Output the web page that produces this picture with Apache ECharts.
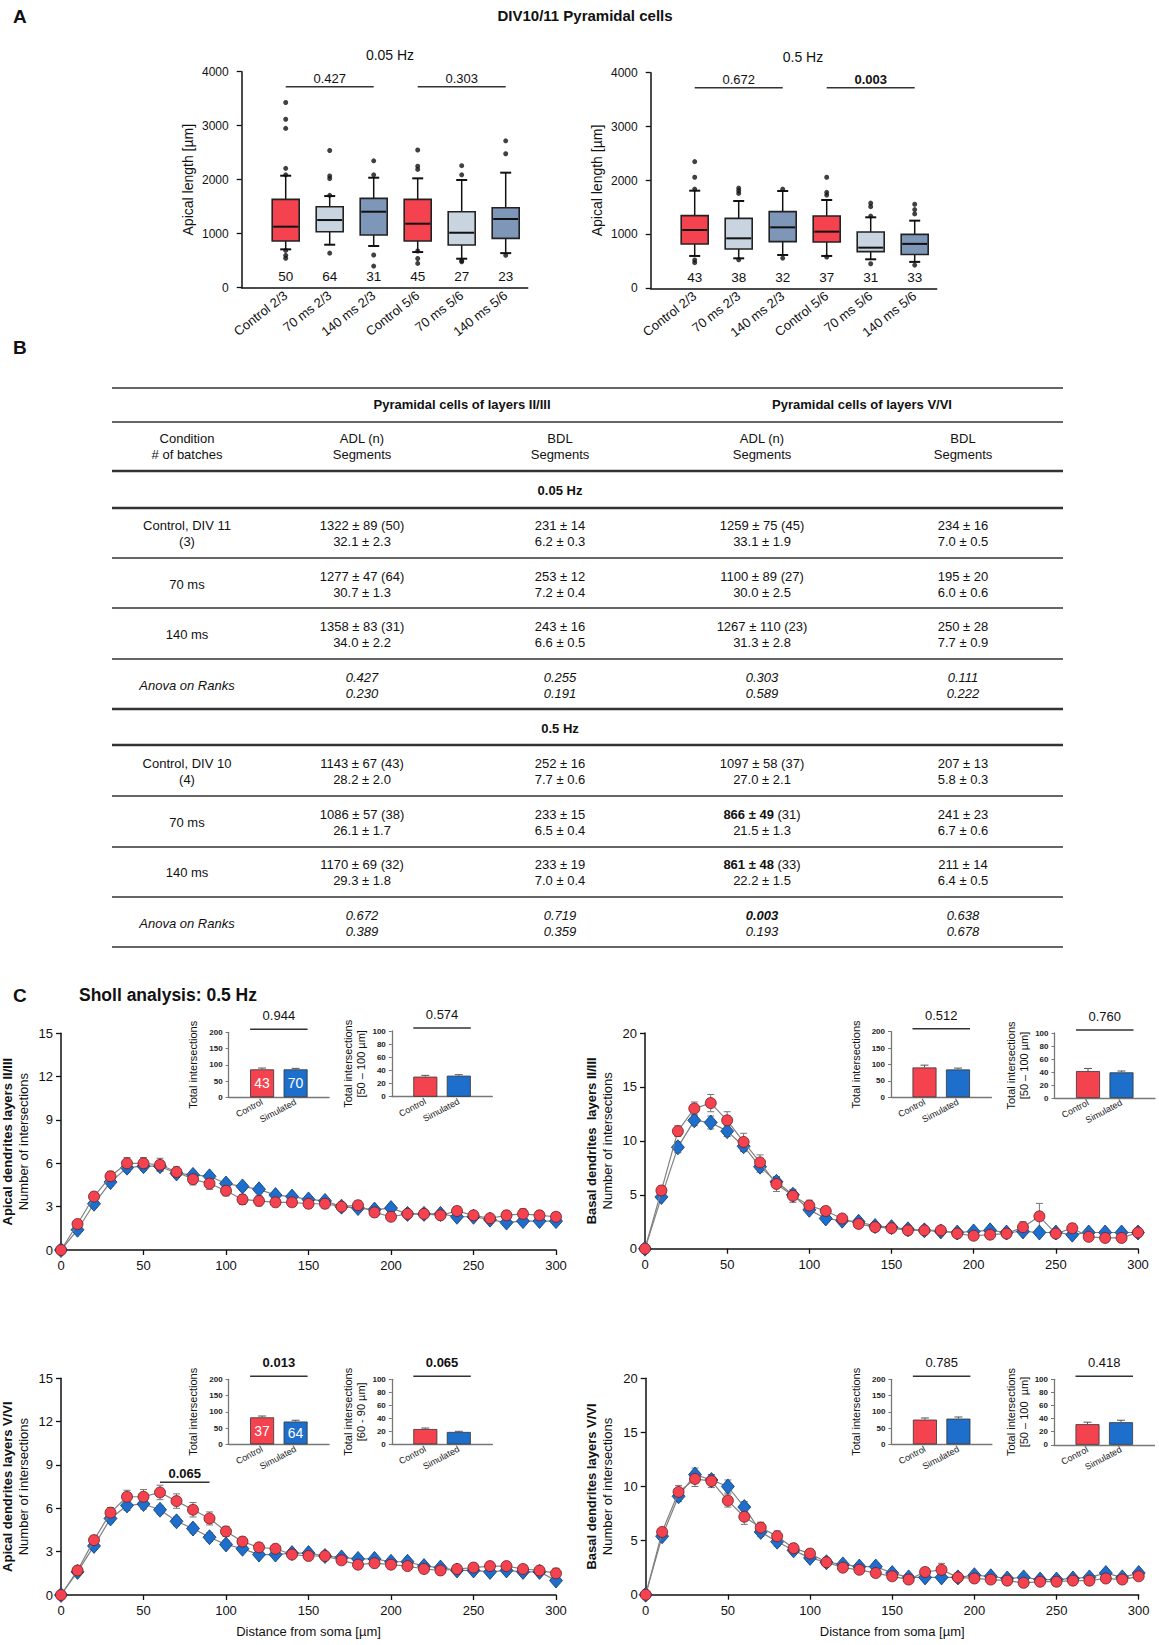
<!DOCTYPE html>
<html>
<head>
<meta charset="utf-8">
<script src="https://cdn.jsdelivr.net/npm/echarts@6/dist/echarts.min.js"></script>
<style>html,body{margin:0;padding:0;background:#fff}#c{width:1159px;height:1645px}</style>
</head>
<body>
<div id="c"></div>
<script>
// ---------------- DATA ----------------
const boxCategories = ['Control 2/3', '70 ms 2/3', '140 ms 2/3', 'Control 5/6', '70 ms 5/6', '140 ms 5/6'];
// [min, Q1, median, Q3, max]
const box005 = [[710, 864, 1130, 1636, 2074], [796, 1037, 1253, 1500, 1697], [772, 975, 1407, 1654, 2037], [660, 864, 1185, 1636, 2025], [537, 790, 1018, 1407, 1994], [640, 914, 1272, 1481, 2130]];
const outliers005 = [[3430, 3120, 2950, 2210, 2090, 690, 600, 545], [2540, 2070, 2020, 1710, 640], [2350, 2090, 605, 400], [2550, 2250, 2190, 680, 540, 450], [2260, 2090, 500, 480], [2720, 2480, 600]];
const n005 = [50, 64, 31, 45, 27, 23];
const box05 = [[600, 822, 1082, 1348, 1811], [556, 730, 927, 1298, 1620], [618, 866, 1131, 1422, 1805], [600, 859, 1051, 1342, 1638], [538, 680, 754, 1045, 1317], [490, 627, 824, 1000, 1255]];
const outliers05 = [[2350, 2060, 1840, 525, 476], [1860, 1810, 1760, 530], [1840, 560], [2060, 1780, 1730, 580], [1580, 1515, 1340, 455], [1560, 1460, 1380, 430]];
const n05 = [43, 38, 32, 37, 31, 33];
const sigPairs = [[1, 3], [4, 6]];
const sig005 = ['0.427', '0.303'];
const sig05 = ['0.672', '0.003'];
const sig05Bold = [false, true];

// table
const tableGroupHeaders = ['Pyramidal cells of layers II/III', 'Pyramidal cells of layers V/VI'];
const tableColumnHeaders = ['Condition\n# of batches', 'ADL (n)\nSegments', 'BDL\nSegments', 'ADL (n)\nSegments', 'BDL\nSegments'];
const tableSections = ['0.05 Hz', '0.5 Hz'];
const rows005 = [
  ['Control, DIV 11\n(3)', '1322 ± 89 (50)\n32.1 ± 2.3', '231 ± 14\n6.2 ± 0.3', '1259 ± 75 (45)\n33.1 ± 1.9', '234 ± 16\n7.0 ± 0.5'],
  ['70 ms', '1277 ± 47 (64)\n30.7 ± 1.3', '253 ± 12\n7.2 ± 0.4', '1100 ± 89 (27)\n30.0 ± 2.5', '195 ± 20\n6.0 ± 0.6'],
  ['140 ms', '1358 ± 83 (31)\n34.0 ± 2.2', '243 ± 16\n6.6 ± 0.5', '1267 ± 110 (23)\n31.3 ± 2.8', '250 ± 28\n7.7 ± 0.9'],
  ['Anova on Ranks', '0.427\n0.230', '0.255\n0.191', '0.303\n0.589', '0.111\n0.222']
];
const rows05 = [
  ['Control, DIV 10\n(4)', '1143 ± 67 (43)\n28.2 ± 2.0', '252 ± 16\n7.7 ± 0.6', '1097 ± 58 (37)\n27.0 ± 2.1', '207 ± 13\n5.8 ± 0.3'],
  ['70 ms', '1086 ± 57 (38)\n26.1 ± 1.7', '233 ± 15\n6.5 ± 0.4', '{b|866 ± 49} (31)\n21.5 ± 1.3', '241 ± 23\n6.7 ± 0.6'],
  ['140 ms', '1170 ± 69 (32)\n29.3 ± 1.8', '233 ± 19\n7.0 ± 0.4', '{b|861 ± 48} (33)\n22.2 ± 1.5', '211 ± 14\n6.4 ± 0.5'],
  ['Anova on Ranks', '0.672\n0.389', '0.719\n0.359', '{bi|0.003}\n0.193', '0.638\n0.678']
];

// Sholl curves
const dist = [0, 10, 20, 30, 40, 50, 60, 70, 80, 90, 100, 110, 120, 130, 140, 150, 160, 170, 180, 190, 200, 210, 220, 230, 240, 250, 260, 270, 280, 290, 300];
const apical23Control = [0, 1.8, 3.7, 5.1, 6.0, 6.0, 5.9, 5.4, 4.9, 4.6, 4.1, 3.5, 3.4, 3.3, 3.3, 3.2, 3.2, 3.0, 3.1, 2.6, 2.3, 2.5, 2.5, 2.4, 2.7, 2.4, 2.2, 2.4, 2.5, 2.4, 2.3];
const apical23ControlErr = [0, 0.2, 0.3, 0.35, 0.4, 0.4, 0.45, 0.35, 0.4, 0.4, 0.35, 0.35, 0.35, 0.3, 0.3, 0.3, 0.3, 0.25, 0.3, 0.25, 0.2, 0.25, 0.2, 0.25, 0.3, 0.25, 0.2, 0.3, 0.35, 0.3, 0.3];
const apical23Sim = [0, 1.4, 3.2, 4.7, 5.7, 5.8, 5.8, 5.3, 5.2, 5.1, 4.6, 4.4, 4.2, 3.8, 3.7, 3.5, 3.4, 3.0, 2.9, 2.8, 2.9, 2.5, 2.5, 2.5, 2.3, 2.3, 2.1, 1.9, 2.0, 2.0, 2.0];
const apical23SimErr = [0, 0.15, 0.25, 0.25, 0.3, 0.3, 0.3, 0.25, 0.25, 0.25, 0.25, 0.25, 0.25, 0.2, 0.2, 0.2, 0.2, 0.2, 0.2, 0.2, 0.2, 0.2, 0.2, 0.2, 0.2, 0.2, 0.2, 0.2, 0.2, 0.2, 0.2];
const basal23Control = [0, 5.4, 10.9, 13.0, 13.5, 11.9, 9.9, 8.0, 6.0, 4.9, 4.0, 3.5, 2.8, 2.3, 2.0, 1.9, 1.7, 1.7, 1.7, 1.4, 1.2, 1.3, 1.4, 2.0, 3.0, 1.4, 1.9, 1.1, 1.0, 1.0, 1.5];
const basal23ControlErr = [0, 0.4, 0.5, 0.6, 0.8, 0.8, 0.8, 0.7, 0.7, 0.6, 0.5, 0.4, 0.3, 0.3, 0.3, 0.3, 0.3, 0.3, 0.3, 0.3, 0.3, 0.3, 0.3, 0.5, 1.2, 0.3, 0.4, 0.3, 0.3, 0.3, 0.3];
const basal23Sim = [0, 4.8, 9.4, 11.9, 11.7, 10.9, 9.5, 7.6, 6.2, 5.0, 3.6, 2.8, 2.6, 2.5, 2.1, 2.0, 1.8, 1.7, 1.6, 1.5, 1.6, 1.7, 1.5, 1.6, 1.5, 1.5, 1.3, 1.5, 1.5, 1.5, 1.5];
const basal23SimErr = [0, 0.3, 0.5, 0.5, 0.6, 0.5, 0.5, 0.5, 0.4, 0.4, 0.3, 0.3, 0.3, 0.3, 0.3, 0.2, 0.2, 0.2, 0.2, 0.2, 0.2, 0.2, 0.2, 0.2, 0.2, 0.2, 0.2, 0.2, 0.2, 0.2, 0.2];
const apical56Control = [0, 1.7, 3.8, 5.7, 6.8, 6.8, 7.1, 6.5, 5.9, 5.3, 4.4, 3.7, 3.3, 3.2, 2.8, 2.7, 2.7, 2.4, 2.1, 2.2, 2.1, 2.0, 1.8, 1.7, 1.8, 1.9, 2.0, 2.0, 1.8, 1.7, 1.5];
const apical56ControlErr = [0, 0.2, 0.3, 0.35, 0.45, 0.5, 0.5, 0.5, 0.5, 0.45, 0.35, 0.3, 0.3, 0.3, 0.25, 0.25, 0.25, 0.25, 0.25, 0.25, 0.25, 0.25, 0.2, 0.2, 0.2, 0.2, 0.2, 0.2, 0.2, 0.2, 0.35];
const apical56Sim = [0, 1.6, 3.4, 5.3, 6.2, 6.3, 5.9, 5.1, 4.6, 4.0, 3.5, 3.2, 2.8, 2.8, 2.9, 2.9, 2.7, 2.6, 2.5, 2.5, 2.3, 2.3, 2.0, 1.9, 1.7, 1.7, 1.6, 1.7, 1.6, 1.6, 1.0];
const apical56SimErr = [0, 0.15, 0.25, 0.3, 0.35, 0.35, 0.3, 0.3, 0.3, 0.3, 0.25, 0.25, 0.2, 0.2, 0.2, 0.2, 0.2, 0.2, 0.2, 0.2, 0.2, 0.2, 0.2, 0.2, 0.2, 0.2, 0.2, 0.2, 0.2, 0.2, 0.2];
const basal56Control = [0, 5.8, 9.5, 10.7, 10.5, 8.7, 7.2, 6.2, 5.4, 4.3, 3.8, 3.0, 2.5, 2.3, 2.0, 1.7, 1.4, 2.1, 2.3, 1.6, 1.5, 1.4, 1.3, 1.1, 1.2, 1.2, 1.3, 1.3, 1.5, 1.4, 1.7];
const basal56ControlErr = [0, 0.3, 0.6, 0.7, 0.6, 0.6, 0.7, 0.5, 0.5, 0.4, 0.4, 0.3, 0.3, 0.3, 0.3, 0.3, 0.3, 0.4, 0.6, 0.3, 0.3, 0.3, 0.3, 0.3, 0.3, 0.3, 0.3, 0.3, 0.3, 0.3, 0.3];
const basal56Sim = [0, 5.4, 9.1, 11.1, 10.6, 10.0, 8.1, 5.8, 4.9, 4.1, 3.4, 3.0, 2.8, 2.6, 2.6, 2.0, 1.6, 1.6, 1.6, 1.6, 1.8, 1.7, 1.5, 1.6, 1.4, 1.4, 1.5, 1.6, 2.0, 1.6, 2.0];
const basal56SimErr = [0, 0.3, 0.5, 0.6, 0.5, 0.6, 0.5, 0.4, 0.4, 0.3, 0.3, 0.3, 0.3, 0.3, 0.3, 0.2, 0.2, 0.2, 0.2, 0.2, 0.2, 0.2, 0.2, 0.2, 0.2, 0.2, 0.2, 0.2, 0.3, 0.2, 0.2];
const apical56CurveSig = [[60, 90]];
const apical56CurveSigLabel = ['0.065'];

// inset bars
const insetGroups = [' ', 'Control', 'Simulated', '  '];
const apical23Total = [86, 86], apical23TotalErr = [4, 3];
const apical23Range = [30.5, 32], apical23RangeErr = [2, 1.5];
const basal23Total = [91, 85], basal23TotalErr = [7, 4];
const basal23Range = [41.5, 39.5], basal23RangeErr = [4, 2];
const apical56Total = [83, 70], apical56TotalErr = [4, 4];
const apical56Range = [23.5, 19], apical56RangeErr = [1.5, 1];
const basal56Total = [76, 79], basal56TotalErr = [5, 5];
const basal56Range = [31.5, 34.5], basal56RangeErr = [3, 3];
const apical23N = [43, 70];
const apical56N = [37, 64];
const apical23P = ['0.944', '0.574'];
const basal23P = ['0.512', '0.760'];
const apical56P = ['0.013', '0.065'];
const basal56P = ['0.785', '0.418'];
const rangeLabels = ['[50 – 100 µm]', '[50 – 100 µm]', '[60 - 90 µm]', '[50 – 100  µm]'];

// ---------------- STYLE ----------------
const FF = '"Liberation Sans", Arial, Helvetica, sans-serif';
const RED = '#F4434F', LIGHT = '#C8D5E0', STEEL = '#7E97B8', BLUE = '#1D6FCB';
const boxColors = [RED, LIGHT, STEEL, RED, LIGHT, STEEL];
const INK = '#111';

const grids = [], xAxes = [], yAxes = [], series = [];
function addGrid(g) { grids.push(Object.assign({ outerBoundsMode: 'none', containLabel: false }, g)); return grids.length - 1; }
const blackLine = { show: true, lineStyle: { color: INK, width: 1.5 } };

// ---------------- PANEL A: box plots ----------------
function boxPanel(g, boxes, outs, ns, sigLabels, sigBold) {
  const gi = addGrid(g);
  xAxes.push({
    gridIndex: gi, type: 'value', min: 0, max: 6.5, interval: 1,
    axisLine: blackLine, axisTick: { show: false }, splitLine: { show: false },
    axisLabel: { rotate: 38, margin: 6, fontSize: 13, color: INK, fontFamily: FF, showMinLabel: true, showMaxLabel: true,
      formatter: v => (Number.isInteger(v) && boxCategories[v - 1]) ? boxCategories[v - 1] : '' }
  });
  yAxes.push({
    gridIndex: gi, type: 'value', min: 0, max: 4000, interval: 1000,
    axisLine: blackLine, axisTick: { show: true, length: 5, lineStyle: { color: INK, width: 1.3 } },
    splitLine: { show: false },
    axisLabel: { fontSize: 12, color: INK, fontFamily: FF, margin: 13, formatter: v => String(v) },
    name: 'Apical length [µm]', nameLocation: 'middle', nameGap: 47, nameRotate: 90, nameMoveOverlap: false,
    nameTextStyle: { fontSize: 14, color: INK, fontFamily: FF }
  });
  series.push({
    type: 'custom', xAxisIndex: gi, yAxisIndex: gi, z: 3, clip: false,
    data: boxes.map((b, i) => [i + 1].concat(b)),
    renderItem: (params, api) => {
      const x = api.value(0);
      const c = [1, 2, 3, 4, 5].map(k => api.coord([x, api.value(k)]));
      const cx = c[0][0], hw = 13.5, cw = 5.5;
      const ln = (x1, y1, x2, y2, w) => ({ type: 'line', shape: { x1, y1, x2, y2 }, style: { stroke: INK, lineWidth: w || 1.5 } });
      return { type: 'group', children: [
        ln(cx, c[0][1], cx, c[1][1]), ln(cx, c[3][1], cx, c[4][1]),
        ln(cx - cw, c[0][1], cx + cw, c[0][1], 2), ln(cx - cw, c[4][1], cx + cw, c[4][1], 2),
        { type: 'rect', shape: { x: cx - hw, y: c[3][1], width: 2 * hw, height: c[1][1] - c[3][1] },
          style: { fill: boxColors[params.dataIndex], stroke: '#222', lineWidth: 1.6 } },
        ln(cx - hw + 1, c[2][1], cx + hw - 1, c[2][1], 2)
      ] };
    }
  });
  const pts = [];
  outs.forEach((arr, i) => arr.forEach(v => pts.push([i + 1, v])));
  series.push({ type: 'scatter', xAxisIndex: gi, yAxisIndex: gi, z: 4, symbol: 'circle', symbolSize: 5,
    itemStyle: { color: INK }, data: pts, silent: true });
  series.push({
    type: 'custom', xAxisIndex: gi, yAxisIndex: gi, z: 4, clip: false,
    data: ns.map((n, i) => [i + 1, 0]),
    renderItem: (params, api) => {
      const p = api.coord([api.value(0), 0]);
      return { type: 'text', x: p[0], y: p[1] - 11,
        style: { text: String(ns[params.dataIndex]), textAlign: 'center', textVerticalAlign: 'middle', fontSize: 13.5, fontFamily: FF, fill: INK } };
    }
  });
  series.push(bracketSeries(gi, sigPairs, sigLabels, sigBold, 3720, 0, 0, 13, 2));
}

function bracketSeries(gi, pairs, labels, bolds, yVal, dy, pad, fontSize, labelGap) {
  return {
    type: 'custom', xAxisIndex: gi, yAxisIndex: gi, z: 5, clip: false,
    data: pairs.map(p => [p[0], p[1]]),
    renderItem: (params, api) => {
      const a = api.coord([api.value(0), yVal]), b = api.coord([api.value(1), yVal]);
      const y = a[1] - dy;
      return { type: 'group', children: [
        { type: 'line', shape: { x1: a[0] - pad, y1: y, x2: b[0] + pad, y2: y }, style: { stroke: '#333', lineWidth: 1.6 } },
        { type: 'text', x: (a[0] + b[0]) / 2, y: y - labelGap,
          style: { text: labels[params.dataIndex], textAlign: 'center', textVerticalAlign: 'bottom', fontSize: fontSize,
            fontWeight: (bolds && bolds[params.dataIndex]) ? 'bold' : 'normal', fontFamily: FF, fill: INK } }
      ] };
    }
  };
}

boxPanel({ left: 241.7, top: 71.7, width: 286, height: 216 }, box005, outliers005, n005, sig005, [false, false]);
boxPanel({ left: 650.7, top: 72.7, width: 286, height: 215.6 }, box05, outliers05, n05, sig05, sig05Bold);

// ---------------- PANEL C: Sholl curves ----------------
function errSeries(gi, xs, ys, es, color, z) {
  return {
    type: 'custom', xAxisIndex: gi, yAxisIndex: gi, z: z, clip: false, silent: true,
    data: xs.map((x, i) => [x, ys[i], es[i]]),
    renderItem: (params, api) => {
      const x = api.value(0), y = api.value(1), e = api.value(2);
      if (!e) return null;
      const t = api.coord([x, y + e]), b = api.coord([x, y - e]), cap = 3.5;
      const st = { stroke: color, lineWidth: 1 };
      return { type: 'group', children: [
        { type: 'line', shape: { x1: t[0], y1: t[1], x2: b[0], y2: b[1] }, style: st },
        { type: 'line', shape: { x1: t[0] - cap, y1: t[1], x2: t[0] + cap, y2: t[1] }, style: st },
        { type: 'line', shape: { x1: b[0] - cap, y1: b[1], x2: b[0] + cap, y2: b[1] }, style: st }
      ] };
    }
  };
}

function shollPanel(g, yMax, yInt, boldName, ctrl, ctrlErr, sim, simErr, showXName) {
  const gi = addGrid(g);
  xAxes.push({
    gridIndex: gi, type: 'value', min: 0, max: 300, interval: 50,
    axisLine: blackLine, axisTick: { show: true, length: 5, lineStyle: { color: INK, width: 1.3 } }, splitLine: { show: false },
    axisLabel: { fontSize: 13, color: INK, fontFamily: FF, margin: 9 },
    name: showXName ? 'Distance from soma [µm]' : '', nameLocation: 'middle', nameGap: 30, nameMoveOverlap: false,
    nameTextStyle: { fontSize: 13, color: INK, fontFamily: FF }
  });
  yAxes.push({
    gridIndex: gi, type: 'value', min: 0, max: yMax, interval: yInt,
    axisLine: blackLine, axisTick: { show: true, length: 5, lineStyle: { color: INK, width: 1.3 } }, splitLine: { show: false },
    axisLabel: { fontSize: 13, color: INK, fontFamily: FF, margin: 8 },
    name: '{b|' + boldName + '}\n{n|Number of intersections}', nameLocation: 'middle', nameGap: 30, nameRotate: 90, nameMoveOverlap: false,
    nameTextStyle: { rich: {
      b: { fontWeight: 'bold', fontSize: 13, fontFamily: FF, color: INK, lineHeight: 16 },
      n: { fontSize: 13, fontFamily: FF, color: INK, lineHeight: 16 } } }
  });
  series.push(errSeries(gi, dist, sim, simErr, '#777', 2));
  series.push(errSeries(gi, dist, ctrl, ctrlErr, '#777', 2));
  series.push({
    type: 'line', xAxisIndex: gi, yAxisIndex: gi, z: 3, data: dist.map((d, i) => [d, sim[i]]),
    symbol: 'diamond', symbolSize: [13, 15], lineStyle: { color: '#808080', width: 1.2 },
    itemStyle: { color: BLUE, borderColor: '#0e3a70', borderWidth: 0.8 }, silent: true
  });
  series.push({
    type: 'line', xAxisIndex: gi, yAxisIndex: gi, z: 4, data: dist.map((d, i) => [d, ctrl[i]]),
    symbol: 'circle', symbolSize: 11, lineStyle: { color: '#808080', width: 1.2 },
    itemStyle: { color: RED, borderColor: '#6b1d24', borderWidth: 0.8 }, silent: true
  });
  return gi;
}

function insetPanel(g, yMax, yInt, name, vals, errs, nArr, pLabel, pBold) {
  const gi = addGrid(g);
  xAxes.push({
    gridIndex: gi, type: 'category', data: insetGroups, boundaryGap: false,
    axisLine: { show: true, lineStyle: { color: '#777', width: 1.3 } }, axisTick: { show: false }, splitLine: { show: false },
    axisLabel: { interval: 0, rotate: 28, margin: 4, fontSize: 9, color: '#222', fontFamily: FF }
  });
  yAxes.push({
    gridIndex: gi, type: 'value', min: 0, max: yMax, interval: yInt,
    axisLine: { show: true, lineStyle: { color: '#777', width: 1.3 } },
    axisTick: { show: true, length: 3, lineStyle: { color: '#777', width: 1 } }, splitLine: { show: false },
    axisLabel: { fontSize: 8, fontWeight: 'bold', color: '#222', fontFamily: FF, margin: 6 },
    name: name, nameLocation: 'middle', nameGap: name.indexOf('\n') >= 0 ? 24 : 29, nameRotate: 90, nameMoveOverlap: false,
    nameTextStyle: { fontSize: 11, color: INK, fontFamily: FF, lineHeight: 13 }
  });
  series.push({
    type: 'bar', xAxisIndex: gi, yAxisIndex: gi, barWidth: 24, z: 3, silent: true,
    data: ['-', { value: vals[0], itemStyle: { color: RED } }, { value: vals[1], itemStyle: { color: BLUE } }, '-'],
    itemStyle: { borderColor: '#333', borderWidth: 0.8 },
    label: { show: !!nArr, position: 'inside', color: '#fff', fontSize: 14, fontFamily: FF,
      formatter: p => nArr ? String(nArr[p.dataIndex - 1]) : '' }
  });
  series.push({
    type: 'custom', xAxisIndex: gi, yAxisIndex: gi, z: 4, clip: false, silent: true,
    data: vals.map((v, i) => [i + 1, v, errs[i]]),
    renderItem: (params, api) => {
      const x = api.value(0), y = api.value(1), e = api.value(2);
      const t = api.coord([x, y + e]), b = api.coord([x, y]), cap = 4;
      const st = { stroke: '#555', lineWidth: 1 };
      return { type: 'group', children: [
        { type: 'line', shape: { x1: t[0], y1: t[1], x2: b[0], y2: b[1] }, style: st },
        { type: 'line', shape: { x1: t[0] - cap, y1: t[1], x2: t[0] + cap, y2: t[1] }, style: st }
      ] };
    }
  });
  series.push(bracketSeries(gi, [[1, 2]], [pLabel], [pBold], yMax, 3, 12, 13, 7));
}

const c1 = shollPanel({ left: 61, top: 1033.3, width: 495, height: 216.7 }, 15, 3, 'Apical dendrites layers II/III', apical23Control, apical23ControlErr, apical23Sim, apical23SimErr, false);
const c2 = shollPanel({ left: 645, top: 1033, width: 493, height: 215.7 }, 20, 5, 'Basal dendrites  layers II/III', basal23Control, basal23ControlErr, basal23Sim, basal23SimErr, false);
const c3 = shollPanel({ left: 61, top: 1378.3, width: 495, height: 216.7 }, 15, 3, 'Apical dendrites layers V/VI', apical56Control, apical56ControlErr, apical56Sim, apical56SimErr, true);
series.push(bracketSeries(c3, apical56CurveSig, apical56CurveSigLabel, [true], 7.8, 0, 0, 13, 2));
const c4 = shollPanel({ left: 645.7, top: 1378.3, width: 493, height: 216.4 }, 20, 5, 'Basal dendrites layers V/VI', basal56Control, basal56ControlErr, basal56Sim, basal56SimErr, true);

insetPanel({ left: 228.6, top: 1032.3, width: 100.5, height: 65 }, 200, 50, 'Total intersections', apical23Total, apical23TotalErr, apical23N, apical23P[0], false);
insetPanel({ left: 391.8, top: 1031, width: 100.5, height: 65.7 }, 100, 20, 'Total intersections\n' + rangeLabels[0], apical23Range, apical23RangeErr, null, apical23P[1], false);
insetPanel({ left: 891, top: 1031.7, width: 100.5, height: 65.6 }, 200, 50, 'Total intersections', basal23Total, basal23TotalErr, null, basal23P[0], false);
insetPanel({ left: 1054.5, top: 1033, width: 100.5, height: 65 }, 100, 20, 'Total intersections\n' + rangeLabels[1], basal23Range, basal23RangeErr, null, basal23P[1], false);
insetPanel({ left: 228.6, top: 1379.3, width: 100.5, height: 65 }, 200, 50, 'Total intersections', apical56Total, apical56TotalErr, apical56N, apical56P[0], true);
insetPanel({ left: 391.8, top: 1379.3, width: 100.5, height: 65 }, 100, 20, 'Total intersections\n' + rangeLabels[2], apical56Range, apical56RangeErr, null, apical56P[1], true);
insetPanel({ left: 891.4, top: 1379.3, width: 100.5, height: 65 }, 200, 50, 'Total intersections', basal56Total, basal56TotalErr, null, basal56P[0], false);
insetPanel({ left: 1054, top: 1379.3, width: 100.5, height: 65.5 }, 100, 20, 'Total intersections\n' + rangeLabels[3], basal56Range, basal56RangeErr, null, basal56P[1], false);

// ---------------- Texts & TABLE (graphic) ----------------
const graphics = [];
function txt(x, y, text, opt) {
  graphics.push({ type: 'text', x: x, y: y, silent: true, style: Object.assign({
    text: text, fontSize: 13, fontFamily: FF, fill: INK, textAlign: 'center', textVerticalAlign: 'middle', lineHeight: 16,
    rich: { b: { fontWeight: 'bold', fontSize: 13, fontFamily: FF, fill: INK, lineHeight: 16 },
            bi: { fontWeight: 'bold', fontStyle: 'italic', fontSize: 13, fontFamily: FF, fill: INK, lineHeight: 16 } }
  }, opt || {}) });
}
function hline(y, w) {
  graphics.push({ type: 'line', silent: true, shape: { x1: 112, y1: y, x2: 1063, y2: y }, style: { stroke: '#333', lineWidth: w } });
}
txt(13, 16, 'A', { fontSize: 19, fontWeight: 'bold', textAlign: 'left' });
txt(585, 15, 'DIV10/11 Pyramidal cells', { fontSize: 15, fontWeight: 'bold' });
txt(390, 55, '0.05 Hz', { fontSize: 14 });
txt(803, 57, '0.5 Hz', { fontSize: 14 });
txt(13, 347, 'B', { fontSize: 19, fontWeight: 'bold', textAlign: 'left' });
txt(13, 995, 'C', { fontSize: 19, fontWeight: 'bold', textAlign: 'left' });
txt(79, 995, 'Sholl analysis: 0.5 Hz', { fontSize: 17.5, fontWeight: 'bold', textAlign: 'left' });

const colX = [187, 362, 560, 762, 963];
const groupX = [462, 862];
[[388, 1.6], [422, 1.6], [471, 2.4], [508, 2.4], [558, 1.6], [608, 1.6], [659, 1.6], [709, 2.4], [745, 2.4], [796, 1.6], [847, 1.6], [897, 1.6], [947, 1.6]]
  .forEach(l => hline(l[0], l[1]));
tableGroupHeaders.forEach((h, i) => txt(groupX[i], 404, h, { fontWeight: 'bold' }));
tableColumnHeaders.forEach((h, i) => txt(colX[i], 446, h));
txt(560, 490, tableSections[0], { fontWeight: 'bold' });
txt(560, 728, tableSections[1], { fontWeight: 'bold' });
const rowY005 = [533, 584, 634, 685];
const rowY05 = [771, 822, 872, 923];
function drawRows(rows, ys) {
  rows.forEach((r, ri) => r.forEach((cell, ci) => {
    const italic = r[0] === 'Anova on Ranks';
    txt(colX[ci], ys[ri], cell, italic ? { fontStyle: 'italic' } : {});
  }));
}
drawRows(rows005, rowY005);
drawRows(rows05, rowY05);

const chart = echarts.init(document.getElementById('c'), null, { renderer: 'svg', width: 1159, height: 1645 });
chart.setOption({
  backgroundColor: '#fff',
  animation: false,
  grid: grids,
  xAxis: xAxes,
  yAxis: yAxes,
  series: series,
  graphic: { elements: graphics }
});
</script>
</body>
</html>
